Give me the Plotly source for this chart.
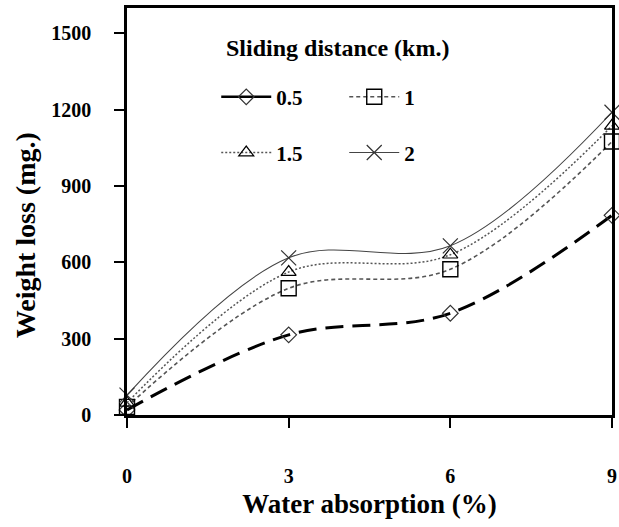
import plotly.graph_objects as go

water_absorption = [0, 3, 6, 9]
names = ["0.5", "1", "1.5", "2"]
loss_05 = [20, 315, 400, 785]
loss_1 = [32, 498, 573, 1075]
loss_15 = [48, 562, 630, 1137]
loss_2 = [78, 618, 665, 1190]
y_ticks = [0, 300, 600, 900, 1200, 1500]
x_ticks = [0, 3, 6, 9]

FONT = "Liberation Serif"

styles = [
    dict(y=loss_05, line=dict(color="black", width=3, dash="18px,9px"),
         marker=dict(symbol="diamond-open", size=12, color="#333", line=dict(width=1.2))),
    dict(y=loss_1, line=dict(color="#555", width=1.6, dash="4px,3px"),
         marker=dict(symbol="square-open", size=15, color="black", line=dict(width=1.4))),
    dict(y=loss_15, line=dict(color="#555", width=1.5, dash="2px,2px"),
         marker=dict(symbol="triangle-up-open", size=13, color="black", line=dict(width=1.2))),
    dict(y=loss_2, line=dict(color="#444", width=1.1),
         marker=dict(symbol="x-thin-open", size=15, color="#333", line=dict(width=1.2))),
]
legends = ["legend", "legend", "legend2", "legend2"]

fig = go.Figure()
for i, (nm, st) in enumerate(zip(names, styles)):
    fig.add_trace(go.Scatter(
        x=water_absorption, y=st["y"], mode="lines+markers", name=nm,
        line=dict(shape="spline", smoothing=1.0, **st["line"]),
        marker=st["marker"], showlegend=(i != 0), legend=legends[i],
        legendrank=i, cliponaxis=False,
    ))
# legend proxy for 0.5 (solid thick sample as in the reference)
fig.add_trace(go.Scatter(
    x=[None], y=[None], mode="lines+markers", name=names[0],
    line=dict(color="black", width=2.5),
    marker=styles[0]["marker"], legend="legend", legendrank=0,
))

legend_common = dict(
    orientation="h", bgcolor="rgba(0,0,0,0)", borderwidth=0,
    font=dict(family=FONT, size=21, color="black", weight="bold"),
    xanchor="left", yanchor="middle", entrywidth=63, itemwidth=50,
    traceorder="normal",
)

fig.update_layout(
    width=619, height=527,
    margin=dict(l=127, r=7, t=8, b=112, autoexpand=False),
    plot_bgcolor="white", paper_bgcolor="white",
    font=dict(family=FONT, color="black"),
    legend=dict(x=0.184, y=0.781, **legend_common),
    legend2=dict(x=0.184, y=0.644, **legend_common),
    xaxis=dict(
        range=[0, 9], tickvals=x_ticks, ticks="outside", ticklen=10, tickwidth=1.5,
        tickcolor="black", showline=True, linecolor="black", linewidth=2.5, mirror=True,
        showgrid=False, zeroline=False, ticklabelstandoff=31, automargin=False,
        tickfont=dict(family=FONT, size=20, color="black", weight="bold"),
        title=dict(text="Water absorption (%)", standoff=9,
                   font=dict(family=FONT, size=27, color="black", weight="bold")),
    ),
    yaxis=dict(
        range=[0, 1600], tickvals=y_ticks, ticks="outside", ticklen=10, tickwidth=1.5,
        tickcolor="black", showline=True, linecolor="black", linewidth=2.5, mirror=True,
        showgrid=False, zeroline=False, ticklabelstandoff=19, automargin=False,
        tickfont=dict(family=FONT, size=20, color="black", weight="bold"),
    ),
    annotations=[
        dict(text="<b>Sliding distance (km.)</b>", xref="paper", yref="paper",
             x=0.2, y=0.902, xanchor="left", yanchor="middle", showarrow=False,
             font=dict(family=FONT, size=24, color="black")),
        dict(text="<b>Weight loss (mg.)</b>", xref="paper", yref="paper",
             x=-0.21, y=0.442, xanchor="center", yanchor="middle", showarrow=False,
             textangle=-90, font=dict(family=FONT, size=28, color="black")),
    ],
)

fig.write_html(
    "out.html",
    config={"displayModeBar": False},
    post_script="document.body.style.margin='0';document.body.style.overflow='hidden';",
)
